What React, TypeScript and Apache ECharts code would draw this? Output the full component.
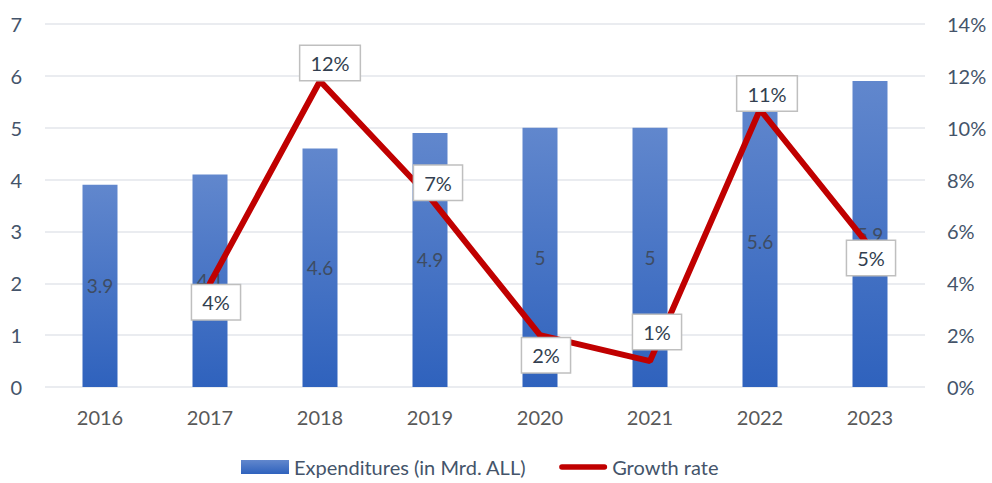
import React, { useEffect, useRef } from "react";
import * as echarts from "echarts";

const categories = ["2016", "2017", "2018", "2019", "2020", "2021", "2022", "2023"];
const expenditures = [3.9, 4.1, 4.6, 4.9, 5, 5, 5.6, 5.9];
const growthRate = [null, 4.0, 11.8, 7.3, 2.0, 1.0, 10.7, 5.4];
const growthLabelOffsets: [number, number][] = [
  [0, 0],
  [6, 19],
  [10, -18],
  [8, -15],
  [6, 20],
  [7, -29],
  [7, -16],
  [1, 11],
];

const textColor = "#44546a";
const fontFamily = "Lato, 'Open Sans', sans-serif";

export default function App() {
  const ref = useRef<HTMLDivElement>(null);
  useEffect(() => {
    if (!ref.current) return;
    const chart = echarts.init(ref.current, undefined, { renderer: "svg" });
    chart.setOption({
      animation: false,
      textStyle: { fontFamily },
      grid: { left: 45, right: 67, top: 24, bottom: 96 },
      legend: {
        top: 452,
        left: 236,
        itemWidth: 48,
        itemHeight: 14,
        itemGap: 33,
        textStyle: { color: textColor, fontSize: 20, fontFamily },
        data: [
          { name: "Expenditures (in Mrd. ALL)", icon: "rect" },
          {
            name: "Growth rate",
            icon: "path://M3,0 L49,0 A3,3 0 0 1 49,6 L3,6 A3,3 0 0 1 3,0 Z",
          },
        ],
      },
      xAxis: {
        type: "category",
        data: categories,
        axisLine: { show: false },
        axisTick: { show: false },
        axisLabel: { color: "#595959", fontSize: 20, margin: 20, fontFamily },
      },
      yAxis: [
        {
          type: "value",
          min: 0,
          max: 7,
          interval: 1,
          axisLine: { show: false },
          axisTick: { show: false },
          axisLabel: { color: textColor, fontSize: 20, margin: 23, fontFamily },
          splitLine: { lineStyle: { color: "#e3e6eb", width: 1.5 } },
        },
        {
          type: "value",
          min: 0,
          max: 14,
          interval: 2,
          position: "right",
          axisLine: { show: false },
          axisTick: { show: false },
          axisLabel: {
            color: textColor,
            fontSize: 20,
            margin: 22,
            fontFamily,
            formatter: (v: number) => `${v}%`,
          },
          splitLine: { show: false },
        },
      ],
      series: [
        {
          name: "Expenditures (in Mrd. ALL)",
          type: "bar",
          data: expenditures,
          barWidth: 35,
          itemStyle: {
            color: new echarts.graphic.LinearGradient(0, 0, 0, 1, [
              { offset: 0, color: "#6187cd" },
              { offset: 1, color: "#2f62bd" },
            ]),
          },
          label: {
            show: true,
            position: "inside",
            color: "#3e4c62",
            fontSize: 19,
            fontFamily,
          },
          z: 2,
        },
        {
          name: "Growth rate",
          type: "line",
          yAxisIndex: 1,
          data: growthRate.map((v, i) =>
            v === null
              ? null
              : {
                  value: v,
                  label: { offset: growthLabelOffsets[i] },
                }
          ),
          symbol: "circle",
          symbolSize: 0.1,
          itemStyle: { color: "#c00000" },
          lineStyle: { color: "#c00000", width: 6, cap: "round" },
          label: {
            show: true,
            position: "inside",
            color: "#333f50",
            fontSize: 20,
            fontFamily,
            backgroundColor: "#ffffff",
            borderColor: "#bfbfbf",
            borderWidth: 1.5,
            padding: [7, 10],
            formatter: (p: any) => `${Math.round(p.value)}%`,
          },
          z: 3,
        },
      ],
    });
    return () => chart.dispose();
  }, []);
  return <div ref={ref} style={{ width: 992, height: 483, position: "absolute", left: 0, top: 0 }} />;
}
